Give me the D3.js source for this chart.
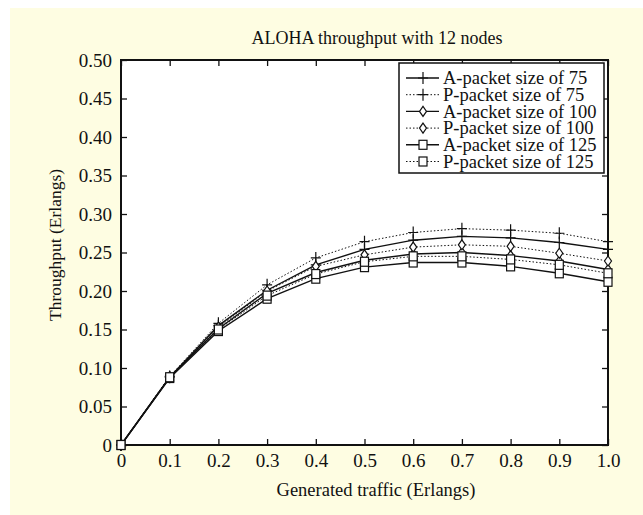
<!DOCTYPE html>
<html>
<head>
<meta charset="utf-8">
<script src="https://cdn.jsdelivr.net/npm/d3@7"></script>
<style>
  body { margin: 0; background: #fff; }
  svg text { font-family: "Liberation Serif", "Times New Roman", serif; fill: #111; }
</style>
</head>
<body>
<svg id="chart" width="643" height="515"></svg>
<script>
// x values (generated traffic)
const traffic = [0, 0.1, 0.2, 0.3, 0.4, 0.5, 0.6, 0.7, 0.8, 0.9, 1.0]

// series values
const a75  = [0, 0.088, 0.155, 0.201, 0.234, 0.254, 0.266, 0.271, 0.269, 0.263, 0.254]
const p75  = [0, 0.089, 0.158, 0.208, 0.243, 0.264, 0.276, 0.281, 0.279, 0.275, 0.264]
const a100 = [0, 0.088, 0.151, 0.197, 0.224, 0.240, 0.248, 0.250, 0.246, 0.239, 0.228]
const p100 = [0, 0.089, 0.153, 0.200, 0.232, 0.247, 0.257, 0.260, 0.258, 0.249, 0.239]
const a125 = [0, 0.087, 0.148, 0.190, 0.216, 0.231, 0.237, 0.237, 0.232, 0.223, 0.212]
const p125 = [0, 0.088, 0.150, 0.194, 0.222, 0.238, 0.245, 0.245, 0.241, 0.234, 0.223]

const seriesNames = ['A-packet size of 75', 'P-packet size of 75', 'A-packet size of 100',
                     'P-packet size of 100', 'A-packet size of 125', 'P-packet size of 125']
const xTickLabels = ['0', '0.1', '0.2', '0.3', '0.4', '0.5', '0.6', '0.7', '0.8', '0.9', '1.0']
const yTickValues = [0, 0.05, 0.10, 0.15, 0.20, 0.25, 0.30, 0.35, 0.40, 0.45, 0.50]

const series = [
  { name: seriesNames[0], values: a75,  marker: 'plus',    dotted: false },
  { name: seriesNames[1], values: p75,  marker: 'plus',    dotted: true },
  { name: seriesNames[2], values: a100, marker: 'diamond', dotted: false },
  { name: seriesNames[3], values: p100, marker: 'diamond', dotted: true },
  { name: seriesNames[4], values: a125, marker: 'square',  dotted: false },
  { name: seriesNames[5], values: p125, marker: 'square',  dotted: true }
]

const svg = d3.select('#chart')

//cream page background
svg.append('rect')
  .attr('x', 10).attr('y', 8)
  .attr('width', 633).attr('height', 507)
  .attr('fill', '#fefde2')

const margin = { top: 60, left: 121, right: 35, bottom: 70 }
const width = 643 - margin.left - margin.right
const height = 515 - margin.top - margin.bottom

const g = svg.append('g')
  .attr('transform', `translate(${margin.left},${margin.top})`)

const xScale = d3.scaleLinear().domain([0, 1]).range([0, width])
const yScale = d3.scaleLinear().domain([0, 0.5]).range([height, 0])

//plot area
g.append('rect')
  .attr('width', width).attr('height', height)
  .attr('fill', '#fff')

//axes with inward ticks
const xAxis = d3.axisBottom(xScale)
  .tickValues(traffic)
  .tickFormat((d, i) => xTickLabels[i])
  .tickSizeInner(-6).tickSizeOuter(0).tickPadding(9)
const yAxis = d3.axisLeft(yScale)
  .tickValues(yTickValues)
  .tickFormat(d => d === 0 ? '0' : d.toFixed(2))
  .tickSizeInner(-6).tickSizeOuter(0).tickPadding(9)

g.append('g')
  .attr('transform', `translate(0,${height})`)
  .call(xAxis)
g.append('g').call(yAxis)

g.append('g')
  .call(d3.axisTop(xScale).tickValues(traffic).tickFormat('').tickSizeInner(-6).tickSizeOuter(0))
g.append('g')
  .attr('transform', `translate(${width},0)`)
  .call(d3.axisRight(yScale).tickValues(yTickValues).tickFormat('').tickSizeInner(-6).tickSizeOuter(0))

g.selectAll('.domain').remove()
g.selectAll('.tick line').attr('stroke', '#111').attr('stroke-width', 1.3)
g.selectAll('.tick text')
  .style('font-family', '"Liberation Serif", serif')
  .style('font-size', '19px')
  .attr('fill', '#111')

//frame
g.append('rect')
  .attr('width', width).attr('height', height)
  .attr('fill', 'none').attr('stroke', '#111').attr('stroke-width', 2)

//lines
const pathGenerator = d3.line()
  .x((d, i) => xScale(traffic[i]))
  .y(d => yScale(d))

function drawMarker(sel, type) {
  if (type === 'plus') {
    sel.append('path')
      .attr('d', 'M-5,0H5M0,-6V6')
      .attr('stroke', '#111').attr('stroke-width', 1.2).attr('fill', 'none')
  } else if (type === 'diamond') {
    sel.append('path')
      .attr('d', 'M0,-5L3.5,0L0,5L-3.5,0Z')
      .attr('stroke', '#111').attr('stroke-width', 1.2).attr('fill', '#fff')
  } else {
    sel.append('rect')
      .attr('x', -4).attr('y', -4.5).attr('width', 8).attr('height', 9)
      .attr('stroke', '#111').attr('stroke-width', 1.2).attr('fill', '#fff')
  }
}

series.forEach(s => {
  g.append('path')
    .datum(s.values)
    .attr('fill', 'none')
    .attr('stroke', '#111')
    .attr('stroke-width', s.dotted ? 1 : 1.4)
    .attr('stroke-dasharray', s.dotted ? '1.5,2' : null)
    .attr('d', pathGenerator)

  g.selectAll(null)
    .data(s.values)
    .enter()
    .append('g')
    .attr('transform', (d, i) => `translate(${xScale(traffic[i])},${yScale(d)})`)
    .each(function () { drawMarker(d3.select(this), s.marker) })
})

//legend
const legend = svg.append('g')
  .attr('transform', 'translate(399,63)')

legend.append('rect')
  .attr('width', 205).attr('height', 110)
  .attr('fill', '#fff').attr('stroke', '#111').attr('stroke-width', 1.5)

series.forEach((s, i) => {
  const row = legend.append('g')
    .attr('transform', `translate(0,${15 + i * 16.7})`)
  row.append('line')
    .attr('x1', 7).attr('x2', 40)
    .attr('stroke', '#111')
    .attr('stroke-width', s.dotted ? 1 : 1.4)
    .attr('stroke-dasharray', s.dotted ? '1.5,2' : null)
  drawMarker(row.append('g').attr('transform', 'translate(24,0)'), s.marker)
  row.append('text')
    .attr('x', 44).attr('dy', '0.33em')
    .style('font-size', '18.5px')
    .text(s.name)
})

//title and axis labels
svg.append('text')
  .attr('x', 377).attr('y', 44)
  .attr('text-anchor', 'middle')
  .style('font-size', '18px')
  .text('ALOHA throughput with 12 nodes')

svg.append('text')
  .attr('x', 376).attr('y', 496)
  .attr('text-anchor', 'middle')
  .style('font-size', '18.5px')
  .text('Generated traffic (Erlangs)')

svg.append('text')
  .attr('transform', 'translate(61,245) rotate(-90)')
  .attr('text-anchor', 'middle')
  .style('font-size', '17.5px')
  .text('Throughput (Erlangs)')
</script>
</body>
</html>
